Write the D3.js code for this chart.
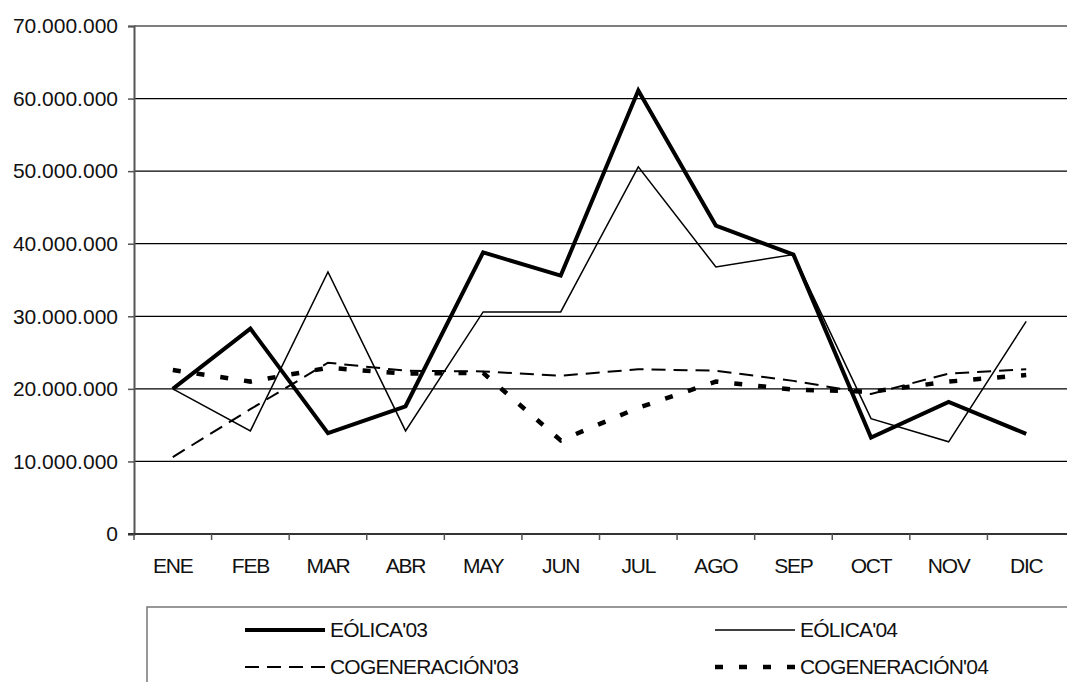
<!DOCTYPE html>
<html>
<head>
<meta charset="utf-8">
<script src="https://cdn.jsdelivr.net/npm/d3@7"></script>
<style>
  html, body { margin: 0; padding: 0; background: #fff; }
  svg { display: block; font-family: "Liberation Sans", Arial, sans-serif; }
</style>
</head>
<body>
<svg id="chart" width="1067" height="682"></svg>
<script>
const months = ["ENE","FEB","MAR","ABR","MAY","JUN","JUL","AGO","SEP","OCT","NOV","DIC"];
const eolica03 = [20000000, 28300000, 13900000, 17600000, 38800000, 35600000, 61100000, 42500000, 38500000, 13300000, 18200000, 13800000];
const eolica04 = [20000000, 14200000, 36100000, 14200000, 30600000, 30600000, 50600000, 36800000, 38500000, 15900000, 12700000, 29300000];
const cogen03  = [10600000, 17200000, 23600000, 22500000, 22400000, 21800000, 22700000, 22500000, 21100000, 19300000, 22100000, 22700000];
const cogen04  = [22600000, 21000000, 22900000, 22100000, 22200000, 12900000, 17400000, 21000000, 19900000, 19600000, 21000000, 21900000];
const yTicks   = [0, 10000000, 20000000, 30000000, 40000000, 50000000, 60000000, 70000000];
const seriesNames = ["EÓLICA'03", "EÓLICA'04", "COGENERACIÓN'03", "COGENERACIÓN'04"];

(function () {
const series = [
  { name: seriesNames[0], values: eolica03, width: 4,   dash: null },
  { name: seriesNames[1], values: eolica04, width: 1.5, dash: null },
  { name: seriesNames[2], values: cogen03,  width: 2,   dash: "14,8" },
  { name: seriesNames[3], values: cogen04,  width: 4.5, dash: "8,16" }
];

const svg = d3.select("#chart");
const pLeft = 134, pRight = 1065, pTop = 26, pBottom = 534;

const x = d3.scaleBand().domain(months).range([pLeft, pRight]).padding(0);
const y = d3.scaleLinear().domain([0, 70000000]).range([pBottom, pTop]);

const loc = d3.formatLocale({decimal: ",", thousands: ".", grouping: [3], currency: ["", "€"]});
const fmt = loc.format(",");

// gridlines
svg.append("g")
  .selectAll("line")
  .data(yTicks.filter(d => d > 0))
  .join("line")
  .attr("x1", pLeft).attr("x2", pRight + 2)
  .attr("y1", d => y(d)).attr("y2", d => y(d))
  .attr("stroke", "#000").attr("stroke-width", 1.2);

// y axis
const yAxis = svg.append("g")
  .attr("transform", `translate(${pLeft},0)`)
  .call(d3.axisLeft(y).tickValues(yTicks).tickFormat(fmt).tickSize(6).tickPadding(10));
yAxis.select(".domain").attr("stroke", "#555").attr("stroke-width", 2);
yAxis.selectAll(".tick line").attr("stroke", "#555").attr("stroke-width", 1.5);
yAxis.selectAll(".tick text")
  .attr("font-size", "21px").attr("fill", "#111")
  .attr("font-family", "Liberation Sans, Arial, sans-serif");

// x axis
const xAxis = svg.append("g")
  .attr("transform", `translate(0,${pBottom})`)
  .call(d3.axisBottom(x).tickSize(0).tickPadding(24));
xAxis.select(".domain").remove();
xAxis.selectAll(".tick text")
  .attr("font-size", "21px").attr("fill", "#111")
  .attr("letter-spacing", "-1.2px")
  .attr("font-family", "Liberation Sans, Arial, sans-serif");
svg.append("line")
  .attr("x1", pLeft - 6).attr("x2", pRight + 2)
  .attr("y1", pBottom).attr("y2", pBottom)
  .attr("stroke", "#333").attr("stroke-width", 2);
svg.append("g")
  .selectAll("line")
  .data(months)
  .join("line")
  .attr("x1", d => x(d)).attr("x2", d => x(d))
  .attr("y1", pBottom).attr("y2", pBottom + 6)
  .attr("stroke", "#555").attr("stroke-width", 1.5);

// lines
const line = d3.line()
  .x((d, i) => x(months[i]) + x.bandwidth() / 2)
  .y(d => y(d));

const drawOrder = [series[2], series[3], series[1], series[0]];
svg.append("g")
  .selectAll("path")
  .data(drawOrder)
  .join("path")
  .attr("d", d => line(d.values))
  .attr("fill", "none")
  .attr("stroke", "#000")
  .attr("stroke-width", d => d.width)
  .attr("stroke-dasharray", d => d.dash)
  .attr("stroke-linejoin", "miter")
  .attr("stroke-miterlimit", 10);

// legend
const lg = svg.append("g");
lg.append("rect")
  .attr("x", 147).attr("y", 607)
  .attr("width", 940).attr("height", 120)
  .attr("fill", "#fff").attr("stroke", "#777").attr("stroke-width", 1.5);

const legendPos = [
  { lx: 245, ly: 630 },
  { lx: 715, ly: 630 },
  { lx: 245, ly: 667 },
  { lx: 715, ly: 667 }
];
series.forEach((s, i) => {
  const p = legendPos[i];
  lg.append("line")
    .attr("x1", p.lx).attr("x2", p.lx + 80)
    .attr("y1", p.ly).attr("y2", p.ly)
    .attr("stroke", "#000")
    .attr("stroke-width", s.width)
    .attr("stroke-dasharray", s.dash);
  lg.append("text")
    .attr("x", p.lx + 85).attr("y", p.ly + 7)
    .attr("font-size", "21px").attr("fill", "#111")
    .attr("letter-spacing", "-0.8px")
    .text(s.name);
});
})();
</script>
</body>
</html>
